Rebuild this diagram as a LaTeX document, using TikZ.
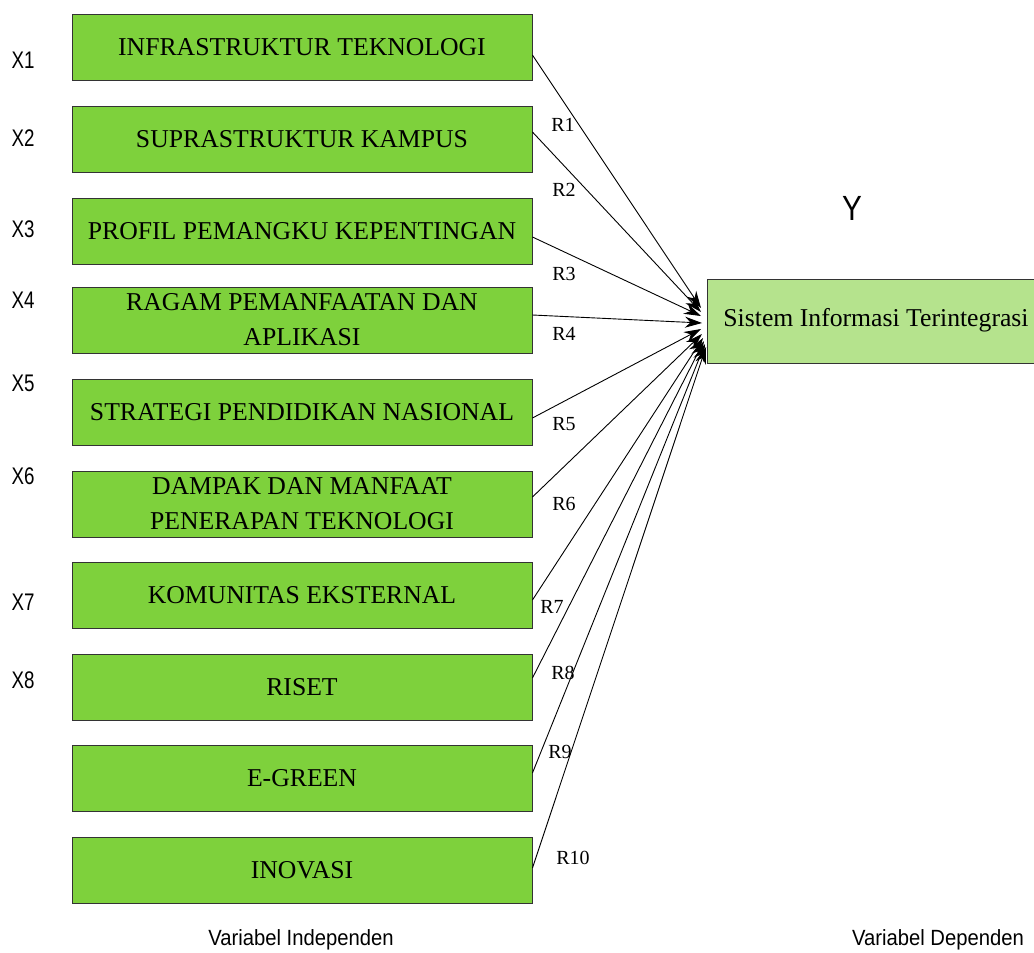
\documentclass[tikz,border=0pt]{standalone}
\usepackage{fontspec}
\setmainfont{Liberation Serif}
\newfontfamily\arialfont{Liberation Sans}
\usetikzlibrary{arrows.meta}
\definecolor{indepgreen}{HTML}{7ED13C}
\definecolor{depgreen}{HTML}{B5E38D}
\definecolor{boxline}{HTML}{333333}

\begin{document}
\begin{tikzpicture}[x=1pt,y=-1pt,
  ivbox/.style={draw=boxline, line width=0.9pt, fill=indepgreen,
    minimum width=460pt, minimum height=66pt, inner sep=0pt, align=center,
    font=\fontsize{25.7}{35}\selectfont},
  dvbox/.style={draw=boxline, line width=0.9pt, fill=depgreen,
    minimum width=345pt, minimum height=84pt, inner sep=0pt, anchor=north west},
  boxtext/.style={inner sep=0pt, font=\fontsize{25.7}{35}\selectfont},
  varlabel/.style={inner sep=0pt, xscale=0.78, font=\arialfont\fontsize{24}{28}\selectfont},
  footlabel/.style={inner sep=0pt, xscale=0.92, font=\arialfont\fontsize{22}{26}\selectfont},
  rlabel/.style={inner sep=0pt, font=\fontsize{20}{24}\selectfont},
  link/.style={line width=0.9pt, -{Stealth[length=17pt,width=11pt]}}
]
\useasboundingbox (0,0) rectangle (1034,953);

% independent variables
\node[ivbox] (b1)  at (302,47)  {INFRASTRUKTUR TEKNOLOGI};
\node[ivbox] (b2)  at (302,139) {SUPRASTRUKTUR KAMPUS};
\node[ivbox] (b3)  at (302,231) {PROFIL PEMANGKU KEPENTINGAN};
\node[ivbox] (b4)  at (302,320) {RAGAM PEMANFAATAN DAN\\APLIKASI};
\node[ivbox] (b5)  at (302,412) {STRATEGI PENDIDIKAN NASIONAL};
\node[ivbox] (b6)  at (302,504) {DAMPAK DAN MANFAAT\\PENERAPAN TEKNOLOGI};
\node[ivbox] (b7)  at (302,595) {KOMUNITAS EKSTERNAL};
\node[ivbox] (b8)  at (302,687) {RISET};
\node[ivbox] (b9)  at (302,778) {E-GREEN};
\node[ivbox] (b10) at (302,870) {INOVASI};

% dependent variable (box runs past the right edge)
\node[dvbox] (ybox) at (707,279) {};
\node[boxtext] (ytext) at (876,320) {Sistem Informasi Terintegrasi};

% variable codes
\node[varlabel] (x1) at (23,60)  {X1};
\node[varlabel] (x2) at (23,138) {X2};
\node[varlabel] (x3) at (23,229) {X3};
\node[varlabel] (x4) at (23,300) {X4};
\node[varlabel] (x5) at (23,383) {X5};
\node[varlabel] (x6) at (23,476) {X6};
\node[varlabel] (x7) at (23,602) {X7};
\node[varlabel] (x8) at (23,680) {X8};
\node[inner sep=0pt, xscale=0.85, font=\arialfont\fontsize{35}{40}\selectfont] (ylab) at (852,208) {Y};

% arrow tips along the left side of the dependent box
\coordinate (t1)  at (701,308);
\coordinate (t2)  at (701,312);
\coordinate (t3)  at (701,316);
\coordinate (t4)  at (702,323);
\coordinate (t5)  at (701,329);
\coordinate (t6)  at (702,334);
\coordinate (t7)  at (703,338);
\coordinate (t8)  at (704,341);
\coordinate (t9)  at (705,344);
\coordinate (t10) at (706,347);

\draw[link] ([yshift=-8pt]b1.east) -- (t1);
\draw[link] ([yshift=7pt]b2.east)  -- (t2);
\draw[link] ([yshift=-6pt]b3.east) -- (t3);
\draw[link] ([yshift=5pt]b4.east)  -- (t4);
\draw[link] ([yshift=-6pt]b5.east) -- (t5);
\draw[link] ([yshift=7pt]b6.east)  -- (t6);
\draw[link] ([yshift=-5pt]b7.east) -- (t7);
\draw[link] ([yshift=9pt]b8.east)  -- (t8);
\draw[link] ([yshift=5pt]b9.east)  -- (t9);
\draw[link] ([yshift=2pt]b10.east) -- (t10);

% path coefficients
\node[rlabel] (r1)  at (563,125) {R1};
\node[rlabel] (r2)  at (564,190) {R2};
\node[rlabel] (r3)  at (564,274) {R3};
\node[rlabel] (r4)  at (564,334) {R4};
\node[rlabel] (r5)  at (564,424) {R5};
\node[rlabel] (r6)  at (564,504) {R6};
\node[rlabel] (r7)  at (552,607) {R7};
\node[rlabel] (r8)  at (563,673) {R8};
\node[rlabel] (r9)  at (560,752) {R9};
\node[rlabel] (r10) at (573,858) {R10};

% group captions
\node[footlabel] (indep) at (301,940) {Variabel Independen};
\node[footlabel] (dep)   at (938,940) {Variabel Dependen};
\end{tikzpicture}
\end{document}
